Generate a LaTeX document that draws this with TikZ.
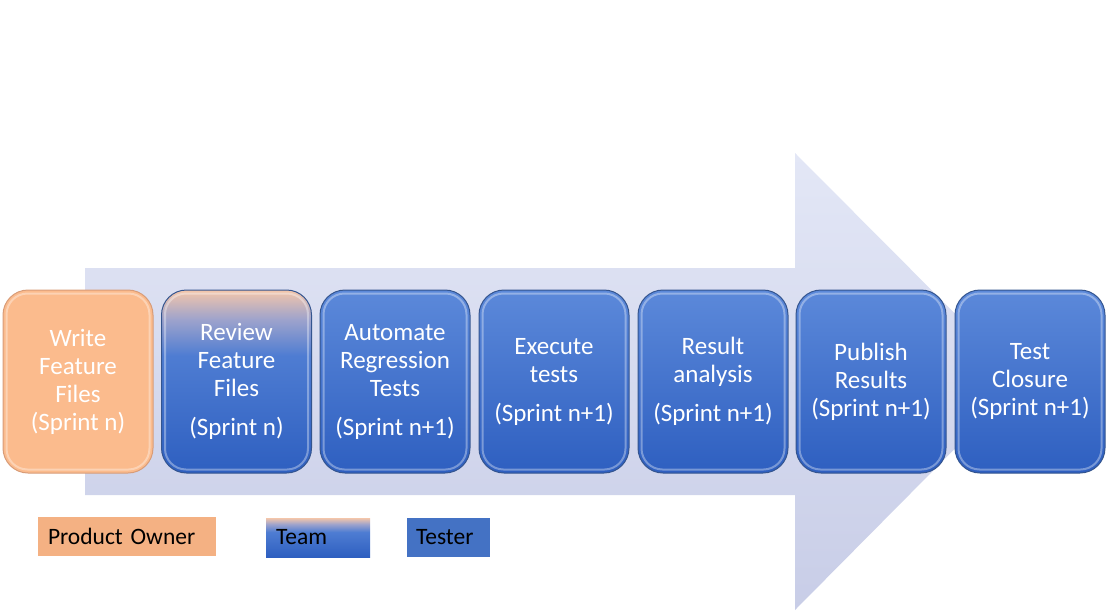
\documentclass[tikz,border=0pt]{standalone}
\usepackage{fontspec}
\setmainfont{Carlito}
\definecolor{arrowtop}{HTML}{E3E7F6}
\definecolor{arrowbot}{HTML}{C8CDE7}
\definecolor{ownerfill}{HTML}{FBBB8D}
\definecolor{ownerline}{HTML}{D89C78}
\definecolor{bluetop}{HTML}{5C89DA}
\definecolor{bluebot}{HTML}{2E5FC0}
\definecolor{blueline}{HTML}{34558F}
\definecolor{peach}{HTML}{F4C6AA}
\definecolor{mauve}{HTML}{9EA3CC}
\definecolor{legendowner}{HTML}{F4B183}
\definecolor{legendtester}{HTML}{4472C4}
\pgfdeclareverticalshading{teamshade}{100bp}{color(0bp)=(bluebot); color(25bp)=(bluebot); color(57bp)=(bluetop!70!bluebot); color(67bp)=(mauve); color(75bp)=(peach); color(100bp)=(peach)}
\tikzset{
  stage/.style={rounded corners=25pt,minimum width=150pt,minimum height=183pt,
    align=center,text=white,font=\fontsize{25}{28}\selectfont,line width=1pt},
  tester stage/.style={stage,draw=blueline,top color=bluetop,bottom color=bluebot},
  team stage/.style={stage,draw=blueline,shading=teamshade},
  owner stage/.style={stage,draw=ownerline,fill=ownerfill},
  legend/.style={inner ysep=0pt,inner xsep=10pt,minimum height=39pt,align=left,
    font=\fontsize{23.5}{26}\selectfont}
}
\begin{document}
\begin{tikzpicture}[x=1pt,y=-1pt]
  \useasboundingbox (0,0) rectangle (1108,613);
  \shade[top color=arrowtop,bottom color=arrowbot] (85,268) -- (795,268) -- (795,153) -- (1022,381)
    -- (795,610) -- (795,495) -- (85,495) -- cycle;
  \node[owner stage] (write) at (78,381.5) {Write\\Feature\\Files\\(Sprint n)};
  \node[team stage] (review) at (236.5,381.5) {Review\\Feature\\Files\\[11pt](Sprint n)};
  \node[tester stage] (automate) at (395,381.5) {Automate\\Regression\\Tests\\[11pt](Sprint n+1)};
  \node[tester stage] (execute) at (554,381.5) {Execute\\tests\\[11pt](Sprint n+1)};
  \node[tester stage] (analysis) at (713,381.5) {Result\\analysis\\[11pt](Sprint n+1)};
  \node[tester stage] (publish) at (871,381.5) {Publish\\Results\\(Sprint n+1)};
  \node[tester stage] (closure) at (1030,381.5) {Test\\Closure\\(Sprint n+1)};
  \foreach \n in {write,review,automate,execute,analysis,publish,closure}
    \draw[white,opacity=.35,line width=2pt,rounded corners=21pt]
      ([shift={(4,4)}]\n.north west) rectangle ([shift={(-4,-4)}]\n.south east);
  \node[legend,fill=legendowner,text width=158pt] (owner) at (127,536.5) {Product Owner};
  \node[legend,shading=teamshade,text width=84pt] (team) at (318,537.5) {Team};
  \node[legend,fill=legendtester,inner xsep=9pt,text width=65pt] (tester) at (448.5,537) {Tester};
\end{tikzpicture}
\end{document}
